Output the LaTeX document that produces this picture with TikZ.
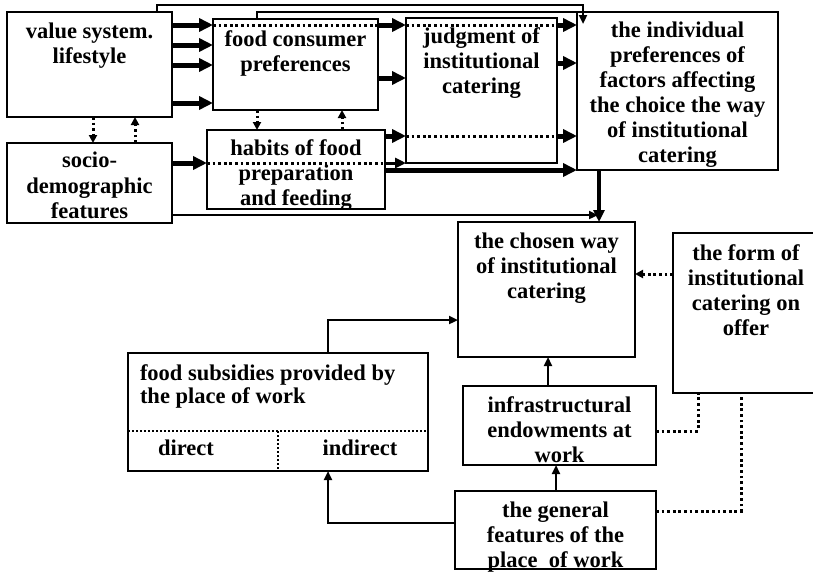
\documentclass[tikz,border=0pt]{standalone}
\usepackage{fontspec}
\setmainfont{Liberation Serif}
\usetikzlibrary{arrows.meta,calc}
\newcommand\bxt[4]{\parbox[c][#2pt][t]{#1pt}{\centering\vspace*{#3pt}\rule{0pt}{15pt}#4\par}}
\begin{document}
\begin{tikzpicture}[x=1pt,y=-1pt,
  box/.style={draw, line width=2.4pt, inner sep=0pt, outer sep=0pt, anchor=north west,
    font=\fontsize{22.5}{25}\selectfont\bfseries},
  txt/.style={inner sep=0pt, outer sep=0pt, font=\fontsize{22.5}{25}\selectfont\bfseries},
  thk/.style={line width=5pt, -{Triangle[length=14pt,width=13pt]}},
  midarr/.style={line width=3pt, -{Triangle[length=11pt,width=10pt]}},
  vert/.style={line width=4pt, -{Triangle[length=12pt,width=11pt]}},
  med/.style={line width=2.2pt},
  medarr/.style={line width=2.2pt, -{Triangle[length=9pt,width=8pt]}},
  dots/.style={line width=3pt, dash pattern=on 2.8pt off 2.8pt},
  dotarr/.style={dots, -{Triangle[length=8pt,width=8pt]}},
  fine dots/.style={line width=2pt, dash pattern=on 2pt off 2pt}
]
\useasboundingbox (0,0) rectangle (813,571);
% boxes
\node[box] (val) at (7,12) {\bxt{165}{105}{11}{value system.\\lifestyle}};
\node[box] (fcp) at (213,19) {\bxt{165}{91}{12}{food consumer\\preferences}};
\node[box] (hab) at (207,130) {\bxt{178}{79}{10}{habits of food\\preparation\\and feeding}};
\node[box] (soc) at (7,143) {\bxt{165}{80}{9}{\baselineskip=25.5pt socio-\\demographic\\features}};
\node[box] (jud) at (406,18) {\bxt{151}{145}{10}{judgment of\\institutional\\catering}};
\node[box] (ind) at (577,12) {\bxt{201}{158}{10}{the individual\\preferences of\\factors affecting\\the choice the way\\of institutional\\catering}};
\node[box] (cho) at (458,222) {\bxt{177}{135}{11}{the chosen way\\of institutional\\catering}};
\node[box] (frm) at (673,233) {\bxt{146}{160}{12}{the form of\\institutional\\catering on\\offer}};
\node[box] (inf) at (463,386) {\bxt{193}{79}{11}{infrastructural\\endowments at\\work}};
\node[box] (gen) at (455,491) {\bxt{201}{78}{11}{the general\\features of the\\place\ \ of work}};
\node[box] (sub) at (128,353) {\parbox[c][118pt][t]{300pt}{\raggedright\leftskip=12pt\fontsize{22.5}{23}\selectfont\vspace*{12pt}\rule{0pt}{15pt}food subsidies provided by\\the place of work\par}};
\node[txt, anchor=base] (dir) at (186,455) {direct};
\node[txt, anchor=base] (indir) at (360,455) {indirect};
\draw[fine dots] (sub.west |- 0,431) -- (sub.east |- 0,431);
\draw[fine dots] (278,431) -- (sub.south -| 278,0);
% connectors top
\coordinate (indin) at (583,24);
\draw[medarr] (val.north -| 157,0) |- (indin |- 0,5) -- (indin);
\draw[med] (fcp.north -| 257,0) |- (ind.north west);
\draw[thk] (val.east |- 0,25) -- (fcp.west |- 0,25);
\draw[thk] (val.east |- 0,45) -- (fcp.west |- 0,45);
\draw[thk] (val.east |- 0,65) -- (fcp.west |- 0,65);
\draw[thk] (val.east |- 0,103) -- (fcp.west |- 0,103);
\draw[dots] (fcp.west |- 0,25) -- (fcp.east |- 0,25);
\draw[thk] (fcp.east |- 0,25) -- (jud.west |- 0,25);
\draw[dots] (jud.west |- 0,25) -- (jud.east |- 0,25);
\draw[thk] (jud.east |- 0,25) -- (ind.west |- 0,25);
\draw[thk] (fcp.east |- 0,78) -- (jud.west |- 0,78);
\draw[thk] (jud.east |- 0,63) -- (ind.west |- 0,63);
\draw[dotarr] (val.south -| 93,0) -- (soc.north -| 93,0);
\draw[dotarr] (soc.north -| 135,0) -- (val.south -| 135,0);
\draw[dotarr] (fcp.south -| 257,0) -- (hab.north -| 257,0);
\draw[dotarr] (hab.north -| 342,0) -- (fcp.south -| 342,0);
\draw[thk] (soc.east |- 0,163) -- (hab.west |- 0,163);
\draw[dots] (hab.west |- 0,163) -- (hab.east |- 0,163);
\draw[midarr] (hab.east |- 0,163) -- (jud.south west);
\draw[thk] (hab.east |- 0,170) -- (ind.south west);
\draw[thk] (hab.east |- 0,136) -- (jud.west |- 0,136);
\draw[dots] (jud.west |- 0,136) -- (jud.east |- 0,136);
\draw[thk] (jud.east |- 0,136) -- (ind.west |- 0,136);
\coordinate (mrg) at (598,215);
\draw[medarr] (soc.east |- mrg) -- (mrg);
\draw[vert] (ind.south -| 599,0) -- (cho.north -| 599,0);
% lower connectors
\draw[medarr] (sub.north -| 328,0) |- (cho.west |- 0,320);
\draw[medarr] (gen.west |- 0,523) -| (sub.south -| 328,0);
\draw[medarr] (inf.north -| 548,0) -- (cho.south -| 548,0);
\draw[medarr] (gen.north -| 556,0) -- (inf.south -| 556,0);
\draw[dotarr] (frm.west |- 0,274) -- (cho.east |- 0,274);
\draw[dots] (inf.east |- 0,431) -| (frm.south -| 698,0);
\draw[dots] (gen.east |- 0,511) -| (frm.south -| 741,0);
\end{tikzpicture}
\end{document}
